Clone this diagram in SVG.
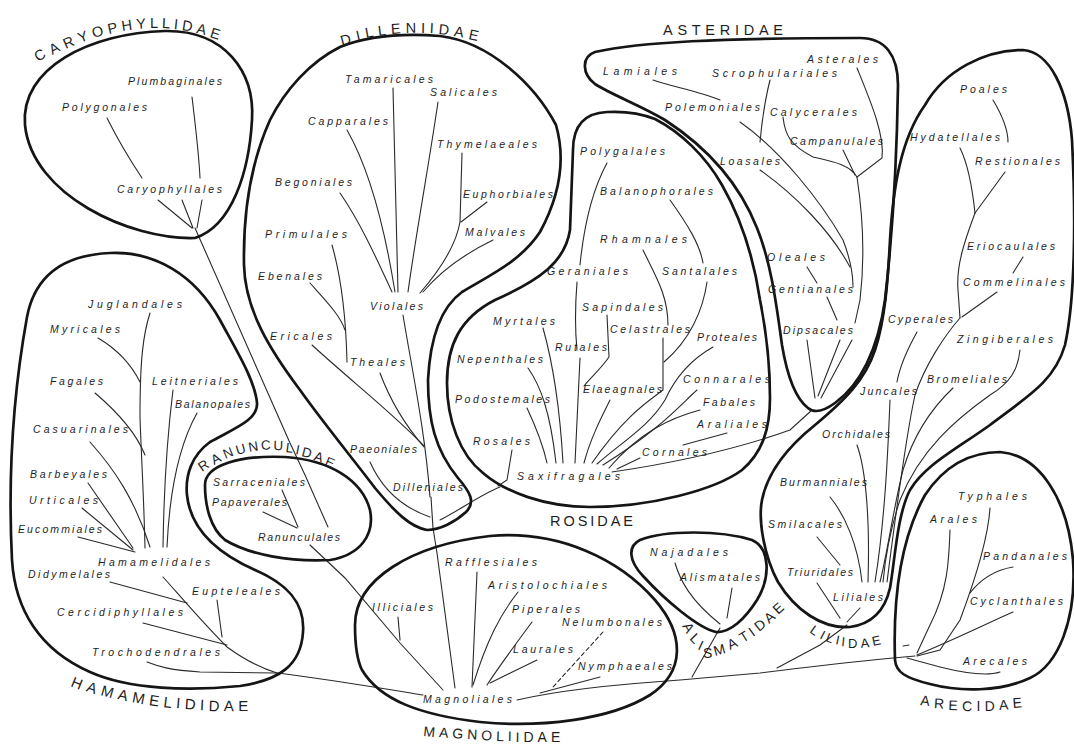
<svg xmlns="http://www.w3.org/2000/svg" width="1074" height="747" viewBox="0 0 1074 747">
<style>
.bg{fill:#fff}
.ol{fill:none;stroke:#151515;stroke-width:2.7;stroke-linejoin:round}
.c{fill:none;stroke:#2a2a2a;stroke-width:1.1;stroke-linecap:round}
.d{stroke-dasharray:4 3}
.o{font-family:"Liberation Sans",Arial,sans-serif;font-style:italic;font-size:10.5px;fill:#1e1e1e}
.g{font-family:"Liberation Sans",Arial,sans-serif;font-size:14.5px;fill:#1e1e1e}
</style>
<rect class="bg" x="0" y="0" width="1074" height="747"/>

<g id="connectors">
<!-- Caryophyllidae -->
<path class="c" d="M107,118 C118,140 130,160 142,178"/>
<path class="c" d="M192,97 C196,130 199,155 200,178"/>
<path class="c" d="M158,200 L192,228 M182,200 L193,228 M202,200 L197,228"/>
<path class="c" d="M195,228 L290,443 L305,475 L328,527"/>
<!-- Dilleniidae -->
<path class="c" d="M393,88 L398,292"/>
<path class="c" d="M438,102 C428,170 415,240 408,292"/>
<path class="c" d="M347,130 C370,170 385,230 395,292"/>
<path class="c" d="M340,193 C362,225 378,262 392,292"/>
<path class="c" d="M462,153 L460,222 C456,245 440,270 420,293 M487,202 L461,222"/>
<path class="c" d="M493,240 C462,255 440,272 423,292"/>
<path class="c" d="M332,245 C342,280 346,320 347,362"/>
<path class="c" d="M310,283 C325,300 340,315 345,330"/>
<path class="c" d="M403,315 C412,370 425,430 430,497"/>
<path class="c" d="M312,345 C350,380 395,415 424,446"/>
<path class="c" d="M380,373 C390,400 405,425 424,447"/>
<path class="c" d="M370,462 C378,480 395,505 430,517"/>
<path class="c" d="M431,497 L433,528 L437,553 L455,688"/>
<path class="c" d="M440,520 C460,510 480,495 500,487"/>
<!-- Rosidae -->
<path class="c" d="M607,163 C595,185 585,215 580,265"/>
<path class="c" d="M670,200 C688,225 700,245 703,263"/>
<path class="c" d="M643,250 C655,275 668,295 668,325"/>
<path class="c" d="M577,282 C574,320 576,340 577,350"/>
<path class="c" d="M580,358 C578,400 576,440 575,463"/>
<path class="c" d="M707,282 C703,310 690,340 664,362"/>
<path class="c" d="M663,338 L663,390 C650,400 625,415 592,463"/>
<path class="c" d="M607,315 L609,357 C600,370 590,378 584,386"/>
<path class="c" d="M610,400 C600,420 590,440 584,463"/>
<path class="c" d="M543,328 C552,360 560,410 563,463"/>
<path class="c" d="M528,368 C540,385 550,410 556,463"/>
<path class="c" d="M527,408 C535,425 543,445 547,463"/>
<path class="c" d="M713,347 C690,360 675,378 665,400 C650,425 625,440 597,464"/>
<path class="c" d="M697,390 C680,405 662,428 603,465"/>
<path class="c" d="M700,410 C670,418 640,432 609,468"/>
<path class="c" d="M727,433 L683,445"/>
<path class="c" d="M640,458 L617,469"/>
<path class="c" d="M612,472 C680,462 740,448 790,430 L812,410"/>
<path class="c" d="M512,450 L507,480 L498,486"/>
<!-- Asteridae -->
<path class="c" d="M653,80 C670,86 700,92 720,100"/>
<path class="c" d="M770,80 C765,100 762,120 760,142"/>
<path class="c" d="M740,122 C780,150 820,200 843,240 C850,258 853,275 853,287"/>
<path class="c" d="M760,170 C795,195 830,230 850,267"/>
<path class="c" d="M783,117 C785,135 790,145 813,157 C835,162 850,165 857,177"/>
<path class="c" d="M843,150 L855,175"/>
<path class="c" d="M857,68 C870,100 885,135 882,158 L857,177"/>
<path class="c" d="M857,177 C862,210 866,250 860,300 L855,323"/>
<path class="c" d="M807,267 L817,283"/>
<path class="c" d="M827,297 L837,320"/>
<path class="c" d="M807,340 L815,398 M840,340 L818,396 M852,340 L821,398"/>
<!-- Hamamelididae -->
<path class="c" d="M150,313 C143,335 140,360 140,417 C141,450 144,500 145,548"/>
<path class="c" d="M98,338 C115,348 130,362 140,382"/>
<path class="c" d="M95,393 C115,410 135,430 145,455"/>
<path class="c" d="M173,390 C168,430 164,480 163,547"/>
<path class="c" d="M197,413 C182,440 170,480 167,547"/>
<path class="c" d="M90,442 C115,470 135,500 150,547"/>
<path class="c" d="M88,483 L133,548 M82,508 L133,550 M78,537 L135,552"/>
<path class="c" d="M163,577 C175,590 200,620 227,647 C245,660 260,668 277,673"/>
<path class="c" d="M110,582 L187,603"/>
<path class="c" d="M217,600 L222,637"/>
<path class="c" d="M143,623 L227,645"/>
<path class="c" d="M147,662 C160,667 170,670 200,672 L277,673"/>
<path class="c" d="M277,673 C320,678 380,688 423,695"/>
<!-- Ranunculidae -->
<path class="c" d="M282,490 L298,527"/>
<path class="c" d="M263,512 L297,528"/>
<path class="c" d="M310,545 L345,578 L400,643 L443,690"/>
<!-- Magnoliidae -->
<path class="c" d="M398,617 L400,640"/>
<path class="c" d="M477,572 L472,687"/>
<path class="c" d="M518,592 C500,615 487,640 473,685"/>
<path class="c" d="M532,622 C515,645 500,665 487,685"/>
<path class="c" d="M537,660 L490,683"/>
<path class="c d" d="M603,632 L553,687"/>
<path class="c" d="M600,677 L540,693"/>
<path class="c" d="M517,700 C560,690 620,684 680,680 L760,673 C800,668 850,662 893,658 L915,656"/>
<!-- Alismatidae -->
<path class="c" d="M675,563 C680,580 690,600 720,624"/>
<path class="c" d="M732,588 L727,618"/>
<path class="c" d="M692,677 L720,628"/>
<!-- Liliidae -->
<path class="c" d="M777,668 L820,645 L847,625"/>
<path class="c" d="M993,100 C1002,115 1008,128 1008,142"/>
<path class="c" d="M960,148 C966,160 972,185 975,213"/>
<path class="c" d="M1005,172 L975,213"/>
<path class="c" d="M975,213 C965,240 956,265 958,290 L960,318"/>
<path class="c" d="M1023,257 L1013,273"/>
<path class="c" d="M997,292 L962,317"/>
<path class="c" d="M960,318 C945,335 925,365 915,395 C905,440 895,520 887,582"/>
<path class="c" d="M1020,350 C1018,370 1010,383 990,395 C955,420 920,450 900,500 C890,530 885,560 883,582"/>
<path class="c" d="M953,388 C935,405 915,430 903,470 C893,510 888,550 880,582"/>
<path class="c" d="M917,332 C907,350 900,365 897,382"/>
<path class="c" d="M890,400 C888,450 885,520 875,582"/>
<path class="c" d="M857,445 C866,470 870,520 868,582"/>
<path class="c" d="M830,497 C845,515 858,545 862,582"/>
<path class="c" d="M817,537 L840,565"/>
<path class="c" d="M817,583 L840,618"/>
<path class="c" d="M860,608 L847,622"/>
<!-- Arecidae -->
<path class="c" d="M950,530 C949,560 948,590 930,625 L917,653"/>
<path class="c" d="M990,508 C988,540 975,580 960,620 L940,650 L917,656"/>
<path class="c" d="M1013,567 C995,570 980,580 970,593"/>
<path class="c" d="M1013,612 C990,622 960,637 917,655"/>
<path class="c" d="M1000,672 C985,677 960,672 940,667 L907,658"/>
<path class="c" d="M903,646 L909,645"/>
</g>

<g id="caryophyllidae">
<path class="ol" d="M195,238 C130,240 32,195 25,125 C20,68 90,33 165,31 C225,30 255,72 252,120 C249,172 232,226 195,238 Z"/>
<text class="g" x="38 52.3 65.8 80.1 93.6 108.7 122.2 136.5 150 161.8 173.6 181.4 195.7 209.2" y="62 55 49 43 38 34 31 29 28 28 29 30 33 37" rotate="-32 -28 -24 -20 -16 -12 -8 -4 0 3 6 9 13 17">CARYOPHYLLIDAE</text>
<g id="plumbaginales"><text class="o" x="128" y="85" textLength="94" lengthAdjust="spacing">Plumbaginales</text></g>
<g id="polygonales"><text class="o" x="62" y="111" textLength="85" lengthAdjust="spacing">Polygonales</text></g>
<g id="caryophyllales"><text class="o" x="117" y="193" textLength="105" lengthAdjust="spacing">Caryophyllales</text></g>
</g>

<g id="dilleniidae">
<path class="ol" d="M340,47 C365,37 400,33 440,36 C490,42 535,85 556,125 C566,160 560,195 540,232 C520,262 490,275 462,292 C440,308 430,340 428,380 C428,420 435,450 458,478 C470,492 476,502 466,512 C455,522 440,530 427,530 C410,527 395,512 375,488 C350,455 325,425 300,390 C270,350 245,310 244,265 C243,210 252,160 270,120 C285,90 310,62 340,47 Z"/>
<text class="g" x="342 357.2 365.9 378.6 391.3 405.7 420.9 429.6 438.3 453.5 467.9" y="46 41 38 36 34 33 33 33 34 36 39" rotate="-16 -13 -10 -7 -4 -1 1 3 6 9 12">DILLENIIDAE</text>
<g id="tamaricales"><text class="o" x="345" y="83" textLength="88" lengthAdjust="spacing">Tamaricales</text></g>
<g id="salicales"><text class="o" x="430" y="96" textLength="67" lengthAdjust="spacing">Salicales</text></g>
<g id="capparales"><text class="o" x="308" y="125" textLength="80" lengthAdjust="spacing">Capparales</text></g>
<g id="thymelaeales"><text class="o" x="437" y="148" textLength="100" lengthAdjust="spacing">Thymelaeales</text></g>
<g id="begoniales"><text class="o" x="275" y="186" textLength="77" lengthAdjust="spacing">Begoniales</text></g>
<g id="euphorbiales"><text class="o" x="463" y="198" textLength="90" lengthAdjust="spacing">Euphorbiales</text></g>
<g id="primulales"><text class="o" x="265" y="238" textLength="82" lengthAdjust="spacing">Primulales</text></g>
<g id="malvales"><text class="o" x="465" y="236" textLength="60" lengthAdjust="spacing">Malvales</text></g>
<g id="ebenales"><text class="o" x="258" y="280" textLength="64" lengthAdjust="spacing">Ebenales</text></g>
<g id="violales"><text class="o" x="370" y="310" textLength="53" lengthAdjust="spacing">Violales</text></g>
<g id="ericales"><text class="o" x="270" y="340" textLength="62" lengthAdjust="spacing">Ericales</text></g>
<g id="theales"><text class="o" x="350" y="366" textLength="55" lengthAdjust="spacing">Theales</text></g>
<g id="paeoniales"><text class="o" x="350" y="453" textLength="67" lengthAdjust="spacing">Paeoniales</text></g>
<g id="dilleniales"><text class="o" x="393" y="491" textLength="70" lengthAdjust="spacing">Dilleniales</text></g>
</g>

<g id="asteridae">
<path class="ol" d="M595,52 C640,42 720,38 860,38 C885,38 898,55 898,85 C897,150 893,230 885,300 C878,350 860,385 835,403 C824,411 815,414 808,408 C795,398 787,375 782,345 C777,310 772,265 757,228 C740,185 708,148 665,120 C640,105 612,95 595,84 C582,74 581,57 595,52 Z"/>
<text class="g" x="663" y="35" textLength="120" lengthAdjust="spacing">ASTERIDAE</text>
<g id="asterales"><text class="o" x="807" y="63" textLength="71" lengthAdjust="spacing">Asterales</text></g>
<g id="lamiales"><text class="o" x="603" y="75" textLength="74" lengthAdjust="spacing">Lamiales</text></g>
<g id="scrophulariales"><text class="o" x="712" y="77" textLength="125" lengthAdjust="spacing">Scrophulariales</text></g>
<g id="polemoniales"><text class="o" x="665" y="111" textLength="95" lengthAdjust="spacing">Polemoniales</text></g>
<g id="calycerales"><text class="o" x="770" y="116" textLength="87" lengthAdjust="spacing">Calycerales</text></g>
<g id="campanulales"><text class="o" x="790" y="145" textLength="93" lengthAdjust="spacing">Campanulales</text></g>
<g id="loasales"><text class="o" x="720" y="165" textLength="60" lengthAdjust="spacing">Loasales</text></g>
<g id="oleales"><text class="o" x="767" y="261" textLength="58" lengthAdjust="spacing">Oleales</text></g>
<g id="gentianales"><text class="o" x="768" y="293" textLength="85" lengthAdjust="spacing">Gentianales</text></g>
<g id="dipsacales"><text class="o" x="783" y="334" textLength="70" lengthAdjust="spacing">Dipsacales</text></g>
</g>

<g id="rosidae">
<path class="ol" d="M607,112 C585,113 573,125 573,150 L570,230 C565,262 540,280 495,300 C460,318 447,345 447,383 C447,420 460,455 483,473 C505,492 545,507 590,507 C650,507 715,490 742,470 C763,452 770,428 770,398 C770,360 766,330 760,300 C754,260 742,220 722,185 C705,155 680,132 655,119 C640,113 625,111 607,112 Z"/>
<text class="g" x="550" y="526" textLength="83" lengthAdjust="spacing">ROSIDAE</text>
<g id="polygalales"><text class="o" x="580" y="155" textLength="85" lengthAdjust="spacing">Polygalales</text></g>
<g id="balanophorales"><text class="o" x="600" y="195" textLength="113" lengthAdjust="spacing">Balanophorales</text></g>
<g id="rhamnales"><text class="o" x="600" y="243" textLength="87" lengthAdjust="spacing">Rhamnales</text></g>
<g id="geraniales"><text class="o" x="547" y="275" textLength="81" lengthAdjust="spacing">Geraniales</text></g>
<g id="santalales"><text class="o" x="662" y="275" textLength="75" lengthAdjust="spacing">Santalales</text></g>
<g id="sapindales"><text class="o" x="582" y="311" textLength="81" lengthAdjust="spacing">Sapindales</text></g>
<g id="myrtales"><text class="o" x="493" y="325" textLength="62" lengthAdjust="spacing">Myrtales</text></g>
<g id="celastrales"><text class="o" x="610" y="333" textLength="80" lengthAdjust="spacing">Celastrales</text></g>
<g id="rutales"><text class="o" x="555" y="351" textLength="52" lengthAdjust="spacing">Rutales</text></g>
<g id="proteales"><text class="o" x="697" y="341" textLength="60" lengthAdjust="spacing">Proteales</text></g>
<g id="nepenthales"><text class="o" x="457" y="363" textLength="86" lengthAdjust="spacing">Nepenthales</text></g>
<g id="elaeagnales"><text class="o" x="583" y="393" textLength="79" lengthAdjust="spacing">Elaeagnales</text></g>
<g id="connarales"><text class="o" x="683" y="383" textLength="87" lengthAdjust="spacing">Connarales</text></g>
<g id="podostemales"><text class="o" x="455" y="403" textLength="95" lengthAdjust="spacing">Podostemales</text></g>
<g id="fabales"><text class="o" x="703" y="406" textLength="52" lengthAdjust="spacing">Fabales</text></g>
<g id="araliales"><text class="o" x="697" y="428" textLength="70" lengthAdjust="spacing">Araliales</text></g>
<g id="rosales"><text class="o" x="473" y="445" textLength="57" lengthAdjust="spacing">Rosales</text></g>
<g id="cornales"><text class="o" x="642" y="456" textLength="65" lengthAdjust="spacing">Cornales</text></g>
<g id="saxifragales"><text class="o" x="517" y="480" textLength="103" lengthAdjust="spacing">Saxifragales</text></g>
</g>

<g id="hamamelididae">
<path class="ol" d="M27,317 C35,275 65,255 110,253 C155,251 195,275 220,320 C235,348 255,380 257,403 C258,420 235,428 210,442 C192,455 185,475 187,495 C190,525 210,550 255,570 C290,585 305,605 303,632 C301,665 280,680 240,686 C190,691 130,690 90,672 C40,650 15,610 12,560 C8,480 12,400 27,317 Z"/>
<text class="g" style="font-size:15px" x="70 85.5 100 117 131.5 148.5 163 175.8 184.5 199.8 208.5 223.8 238.3" y="686 691 695 699 702 705 707 708 709 710 711 711 711" rotate="22 19 16 13 11 9 7 5 4 3 2 1 0">HAMAMELIDIDAE</text>
<g id="juglandales"><text class="o" x="88" y="308" textLength="94" lengthAdjust="spacing">Juglandales</text></g>
<g id="myricales"><text class="o" x="50" y="333" textLength="70" lengthAdjust="spacing">Myricales</text></g>
<g id="fagales"><text class="o" x="50" y="385" textLength="53" lengthAdjust="spacing">Fagales</text></g>
<g id="leitneriales"><text class="o" x="152" y="385" textLength="86" lengthAdjust="spacing">Leitneriales</text></g>
<g id="balanopales"><text class="o" x="175" y="408" textLength="75" lengthAdjust="spacing">Balanopales</text></g>
<g id="casuarinales"><text class="o" x="33" y="433" textLength="95" lengthAdjust="spacing">Casuarinales</text></g>
<g id="barbeyales"><text class="o" x="30" y="478" textLength="77" lengthAdjust="spacing">Barbeyales</text></g>
<g id="urticales"><text class="o" x="29" y="504" textLength="69" lengthAdjust="spacing">Urticales</text></g>
<g id="eucommiales"><text class="o" x="18" y="533" textLength="84" lengthAdjust="spacing">Eucommiales</text></g>
<g id="hamamelidales"><text class="o" x="98" y="566" textLength="112" lengthAdjust="spacing">Hamamelidales</text></g>
<g id="didymelales"><text class="o" x="28" y="578" textLength="82" lengthAdjust="spacing">Didymelales</text></g>
<g id="eupteleales"><text class="o" x="192" y="595" textLength="88" lengthAdjust="spacing">Eupteleales</text></g>
<g id="cercidiphyllales"><text class="o" x="57" y="616" textLength="126" lengthAdjust="spacing">Cercidiphyllales</text></g>
<g id="trochodendrales"><text class="o" x="92" y="656" textLength="128" lengthAdjust="spacing">Trochodendrales</text></g>
</g>

<g id="ranunculidae">
<path class="ol" d="M205,485 C205,465 240,455 285,457 C330,460 362,480 370,510 C375,535 360,555 330,560 C290,562 250,555 225,540 C210,528 205,505 205,485 Z"/>
<text class="g" style="font-size:13.5px" x="202 214 225.2 237.2 249.2 261.2 273.2 285.2 294.9 300.9 312.9 324.1" y="472 465 459 455 452 450 450 452 454 456 460 465" rotate="-34 -28 -22 -16 -10 -4 2 7 11 14 18 23">RANUNCULIDAE</text>
<g id="sarraceniales"><text class="o" x="213" y="486" textLength="92" lengthAdjust="spacing">Sarraceniales</text></g>
<g id="papaverales"><text class="o" x="212" y="506" textLength="75" lengthAdjust="spacing">Papaverales</text></g>
<g id="ranunculales"><text class="o" x="258" y="541" textLength="82" lengthAdjust="spacing">Ranunculales</text></g>
</g>

<g id="magnoliidae">
<path class="ol" d="M355,625 C355,580 410,545 490,536 C560,530 620,560 655,600 C685,635 685,672 650,695 C610,720 540,728 480,722 C420,715 380,700 362,670 C356,658 355,640 355,625 Z"/>
<text class="g" style="font-size:14px" x="423 438.7 452 466.9 481 495.9 507.7 515.6 523.5 537.6 550.9" y="736 737 738 739 740 741 741 742 742 742 742" rotate="6 5 4 3 3 2 1 1 0 0 0">MAGNOLIIDAE</text>
<g id="illiciales"><text class="o" x="372" y="611" textLength="61" lengthAdjust="spacing">Illiciales</text></g>
<g id="rafflesiales"><text class="o" x="445" y="566" textLength="92" lengthAdjust="spacing">Rafflesiales</text></g>
<g id="aristolochiales"><text class="o" x="488" y="589" textLength="119" lengthAdjust="spacing">Aristolochiales</text></g>
<g id="piperales"><text class="o" x="512" y="613" textLength="68" lengthAdjust="spacing">Piperales</text></g>
<g id="nelumbonales"><text class="o" x="562" y="626" textLength="100" lengthAdjust="spacing">Nelumbonales</text></g>
<g id="laurales"><text class="o" x="513" y="653" textLength="60" lengthAdjust="spacing">Laurales</text></g>
<g id="nymphaeales"><text class="o" x="578" y="670" textLength="94" lengthAdjust="spacing">Nymphaeales</text></g>
<g id="magnoliales"><text class="o" x="423" y="703" textLength="89" lengthAdjust="spacing">Magnoliales</text></g>
</g>

<g id="alismatidae">
<path class="ol" d="M640,540 C665,530 720,530 752,540 C770,548 771,577 757,600 C745,619 730,633 716,632 C698,628 665,600 643,576 C628,560 628,546 640,540 Z"/>
<text class="g" style="font-size:14px" x="682 689 697 703 715 730 743 753 759 769 778" y="626 639 649 658 656 650 643 637 632 624 615" rotate="60 45 25 0 -15 -25 -32 -36 -38 -40 -42">ALISMATIDAE</text>
<g id="najadales"><text class="o" x="650" y="556" textLength="78" lengthAdjust="spacing">Najadales</text></g>
<g id="alismatales"><text class="o" x="680" y="581" textLength="80" lengthAdjust="spacing">Alismatales</text></g>
</g>

<g id="liliidae">
<path class="ol" d="M925,105 C945,70 985,50 1023,50 C1050,52 1068,90 1072,140 C1076,220 1075,300 1065,345 C1055,380 1030,395 990,425 C955,450 925,465 910,490 C897,515 895,560 890,588 C885,610 872,624 850,627 C822,629 795,610 778,582 C764,556 758,520 762,500 C768,470 790,445 815,425 C845,400 865,380 875,350 C885,320 888,280 890,240 C893,190 900,140 925,105 Z"/>
<text class="g" style="font-size:13px" x="809 819 825 835 841 848 861 873" y="632 638 641 644 646 648 648 646" rotate="35 28 20 12 6 0 -6 -12">LILIIDAE</text>
<g id="poales"><text class="o" x="960" y="93" textLength="47" lengthAdjust="spacing">Poales</text></g>
<g id="hydatellales"><text class="o" x="910" y="141" textLength="90" lengthAdjust="spacing">Hydatellales</text></g>
<g id="restionales"><text class="o" x="975" y="165" textLength="85" lengthAdjust="spacing">Restionales</text></g>
<g id="eriocaulales"><text class="o" x="967" y="250" textLength="88" lengthAdjust="spacing">Eriocaulales</text></g>
<g id="commelinales"><text class="o" x="963" y="286" textLength="102" lengthAdjust="spacing">Commelinales</text></g>
<g id="cyperales"><text class="o" x="888" y="323" textLength="65" lengthAdjust="spacing">Cyperales</text></g>
<g id="zingiberales"><text class="o" x="957" y="343" textLength="96" lengthAdjust="spacing">Zingiberales</text></g>
<g id="bromeliales"><text class="o" x="927" y="383" textLength="80" lengthAdjust="spacing">Bromeliales</text></g>
<g id="juncales"><text class="o" x="860" y="395" textLength="57" lengthAdjust="spacing">Juncales</text></g>
<g id="orchidales"><text class="o" x="822" y="438" textLength="68" lengthAdjust="spacing">Orchidales</text></g>
<g id="burmanniales"><text class="o" x="780" y="486" textLength="87" lengthAdjust="spacing">Burmanniales</text></g>
<g id="smilacales"><text class="o" x="768" y="528" textLength="74" lengthAdjust="spacing">Smilacales</text></g>
<g id="triuridales"><text class="o" x="787" y="576" textLength="66" lengthAdjust="spacing">Triuridales</text></g>
<g id="liliales"><text class="o" x="833" y="601" textLength="50" lengthAdjust="spacing">Liliales</text></g>
</g>

<g id="arecidae">
<path class="ol" d="M895,660 C893,600 900,540 925,495 C945,465 970,452 1000,452 C1040,455 1068,500 1073,560 C1077,620 1058,665 1030,678 C1000,692 960,692 930,684 C905,678 896,672 895,660 Z"/>
<text class="g" style="font-size:14px" x="920 933.7 948.2 961.9 976.4 984.7 999.2 1012.9" y="705 708 710 711 711 711 710 708" rotate="6 4 2 1 0 -1 -3 -5">ARECIDAE</text>
<g id="typhales"><text class="o" x="958" y="500" textLength="69" lengthAdjust="spacing">Typhales</text></g>
<g id="arales"><text class="o" x="930" y="523" textLength="47" lengthAdjust="spacing">Arales</text></g>
<g id="pandanales"><text class="o" x="983" y="560" textLength="84" lengthAdjust="spacing">Pandanales</text></g>
<g id="cyclanthales"><text class="o" x="970" y="605" textLength="93" lengthAdjust="spacing">Cyclanthales</text></g>
<g id="arecales"><text class="o" x="963" y="665" textLength="64" lengthAdjust="spacing">Arecales</text></g>
</g>
</svg>
